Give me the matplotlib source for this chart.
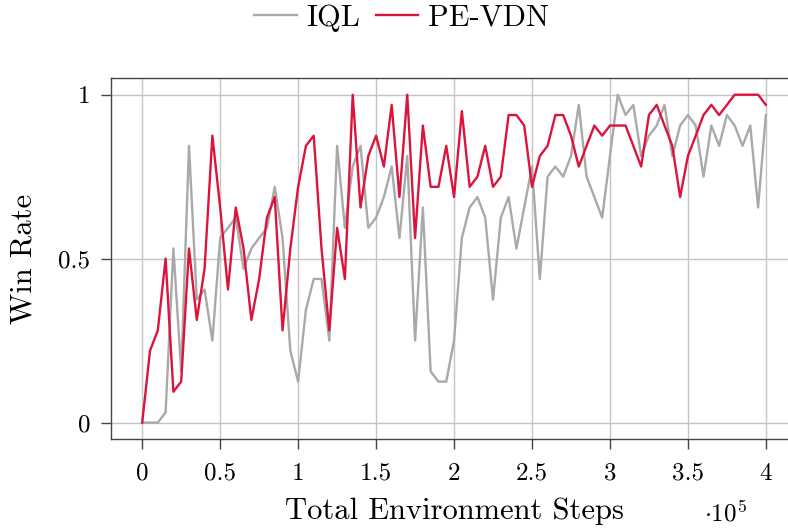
import numpy as np
import matplotlib
matplotlib.use('Agg')
import matplotlib.pyplot as plt
from matplotlib.ticker import FuncFormatter, MultipleLocator

plt.rcParams['font.family'] = 'serif'
plt.rcParams['font.serif'] = ['cmr10']
plt.rcParams['mathtext.fontset'] = 'cm'
plt.rcParams['axes.unicode_minus'] = False

# win rate evaluated every 5000 environment steps
eval_interval = 5000

iql = [0.0, 0.0, 0.0, 0.031, 0.531, 0.156, 0.844, 0.375, 0.406, 0.250,
       0.563, 0.594, 0.625, 0.469, 0.531, 0.563, 0.594, 0.719, 0.563, 0.219,
       0.125, 0.344, 0.438, 0.438, 0.250, 0.844, 0.594, 0.781, 0.844, 0.594,
       0.625, 0.688, 0.781, 0.563, 0.813, 0.250, 0.656, 0.156, 0.125, 0.125,
       0.250, 0.563, 0.656, 0.688, 0.625, 0.375, 0.625, 0.688, 0.531, 0.656,
       0.781, 0.438, 0.750, 0.781, 0.750, 0.813, 0.969, 0.750, 0.688, 0.625,
       0.813, 1.0, 0.938, 0.969, 0.813, 0.875, 0.906, 0.969, 0.813, 0.906,
       0.938, 0.906, 0.750, 0.906, 0.844, 0.938, 0.906, 0.844, 0.906, 0.656,
       0.938]

pe_vdn = [0.0, 0.219, 0.281, 0.5, 0.094, 0.125, 0.531, 0.313, 0.469, 0.875,
          0.656, 0.406, 0.656, 0.531, 0.313, 0.438, 0.625, 0.688, 0.281, 0.531,
          0.719, 0.844, 0.875, 0.531, 0.281, 0.594, 0.438, 1.0, 0.656, 0.813,
          0.875, 0.781, 0.969, 0.688, 1.0, 0.563, 0.906, 0.719, 0.719, 0.844,
          0.688, 0.95, 0.719, 0.750, 0.844, 0.719, 0.750, 0.938, 0.938, 0.906,
          0.719, 0.813, 0.844, 0.938, 0.938, 0.875, 0.781, 0.844, 0.906, 0.875,
          0.906, 0.906, 0.906, 0.844, 0.781, 0.938, 0.969, 0.906, 0.844, 0.688,
          0.813, 0.875, 0.938, 0.969, 0.938, 0.969, 1.0, 1.0, 1.0, 1.0,
          0.969]

steps = np.arange(len(iql)) * eval_interval

fig = plt.figure(figsize=(7.88, 5.31), dpi=100)
# axes run past the right edge, as in the cropped original
ax = fig.add_axes([0.1409, 0.1733, 0.8706, 0.6792])

ax.plot(steps, iql, color='#a9a9a9', lw=1.7, label='IQL')
ax.plot(steps, pe_vdn, color='#dc143c', lw=1.7, label='PE-VDN')

ax.set_xlim(-0.2e5, 4.2e5)
ax.set_ylim(-0.05, 1.05)
ax.xaxis.set_major_locator(MultipleLocator(0.5e5))
ax.yaxis.set_major_locator(MultipleLocator(0.5))
ax.xaxis.set_major_formatter(FuncFormatter(lambda v, p: f"{v / 1e5:g}"))
ax.yaxis.set_major_formatter(FuncFormatter(lambda v, p: f"{v:g}"))

ax.grid(True, color='#c4c4c4', lw=1.0)
ax.set_axisbelow(True)
for s in ax.spines.values():
    s.set_color('#444444')
    s.set_linewidth(1.0)
ax.tick_params(direction='out', length=7, width=1.0, color='#444444',
               labelsize=18)
ax.tick_params(axis='x', pad=10)
ax.tick_params(axis='y', pad=8)

ax.set_xlabel('Total Environment Steps', fontsize=22)
ax.xaxis.set_label_coords(0.5, -0.163)
ax.set_ylabel('Win Rate', fontsize=22)
ax.yaxis.set_label_coords(-0.107, 0.5)

fig.text(0.894, 0.018, r'$\cdot 10^{5}$', fontsize=18)

fig.legend(loc='center', bbox_to_anchor=(0.5095, 0.966), ncol=2,
           frameon=False, fontsize=22, handlelength=1.4,
           handletextpad=0.3, columnspacing=0.5)

fig.savefig('out.png', dpi=100)
